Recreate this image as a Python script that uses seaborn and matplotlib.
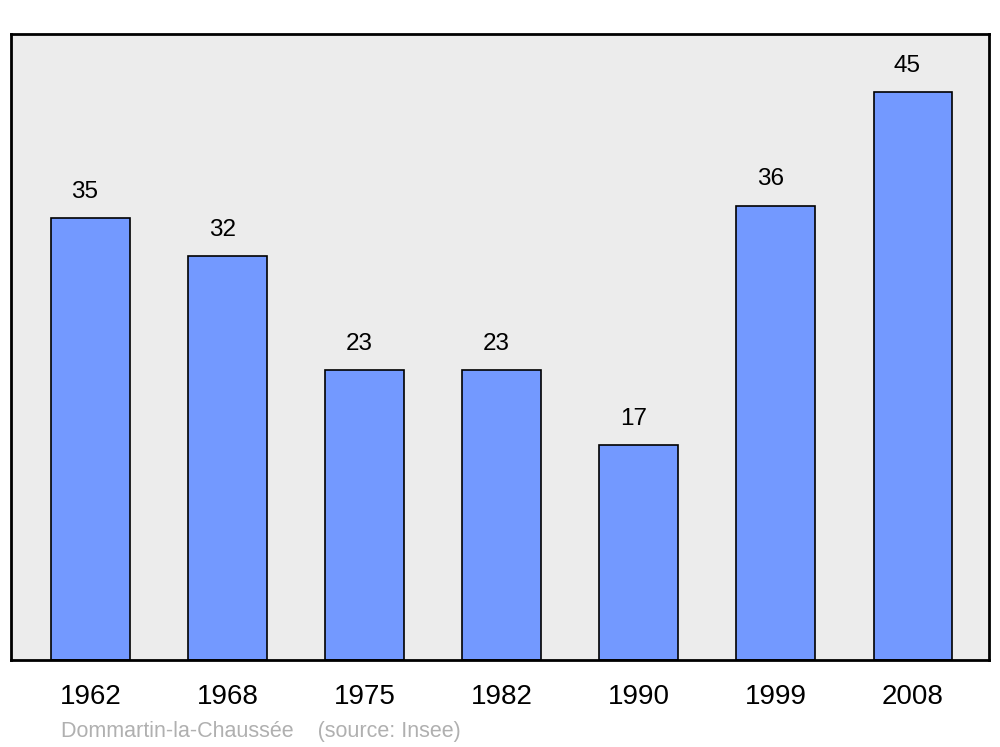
import matplotlib
matplotlib.use("Agg")
import matplotlib.pyplot as plt
import seaborn as sns
import pandas as pd

years = ["1962", "1968", "1975", "1982", "1990", "1999", "2008"]
population = [35, 32, 23, 23, 17, 36, 45]
footer = "Dommartin-la-Chaussée    (source: Insee)"

df = pd.DataFrame({"year": years, "pop": population})

sns.set_theme(style="white")
plt.rcParams["font.family"] = ["Liberation Sans", "DejaVu Sans"]

fig = plt.figure(figsize=(10, 7.47), dpi=100)
ax = fig.add_axes([0.011, 0.1165, 0.978, 0.838])
ax.set_facecolor("#ececec")

sns.barplot(data=df, x="year", y="pop", color="#7399ff", saturation=1,
            width=0.575, edgecolor="black", linewidth=1.2, ax=ax)

for i, v in enumerate(population):
    ax.text(i - 0.04, v + 1.2, str(v), ha="center", va="bottom", fontsize=17.5, color="black")

ax.set_xlim(-0.58, 6.555)
ax.set_ylim(0, 49.6)
ax.set_yticks([])
ax.set_xlabel("")
ax.set_ylabel("")
ax.tick_params(axis="x", length=0, pad=17, labelsize=20, labelcolor="black")
for s in ax.spines.values():
    s.set_color("black")
    s.set_linewidth(2)

fig.text(0.061, 0.021, footer, fontsize=15.5, color="#b0b0b0", ha="left", va="center")

fig.savefig("out.png", dpi=100)
